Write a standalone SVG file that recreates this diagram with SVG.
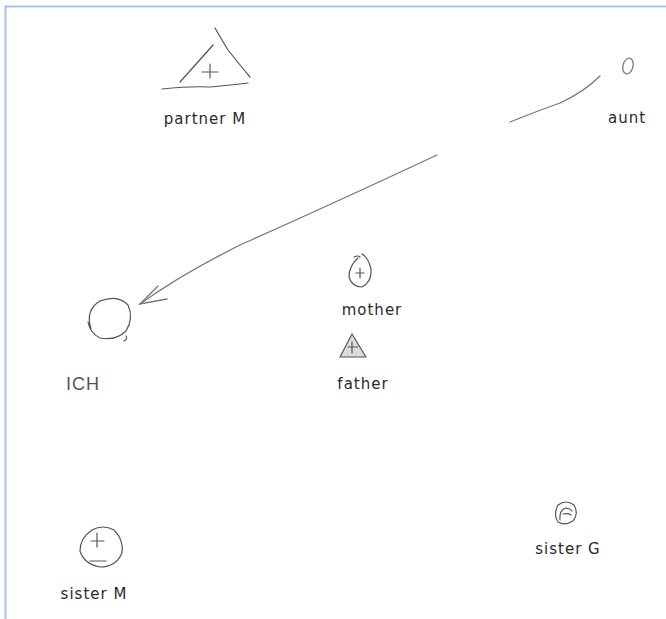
<svg xmlns="http://www.w3.org/2000/svg" width="666" height="619" viewBox="0 0 666 619">
<style>
.lbl{font-family:"DejaVu Sans",sans-serif;font-size:15px;fill:#2a2a2a;letter-spacing:1px;text-anchor:middle}
.pen{fill:none;stroke:#555;stroke-width:1.2;stroke-linecap:round;stroke-linejoin:round}
.pen2{fill:none;stroke:#777;stroke-width:1.3;stroke-linecap:round}
</style>
<rect x="0" y="0" width="666" height="619" fill="#fff"/>
<path d="M5.5 619 V6.5 H666" fill="none" stroke="#a9c1ef" stroke-width="2"/>
<g id="partnerM">
<path class="pen" d="M215 28 Q222 40 228 50 Q240 65 250 77"/>
<path class="pen" d="M213 45 Q198 62 180 82"/>
<path class="pen" d="M162 89 Q190 86 210 87 Q232 85 248 83"/>
<path class="pen" d="M202 72 H218 M210 64 V78"/>
<text class="lbl" x="205" y="124">partner M</text>
</g>
<g id="aunt">
<ellipse class="pen2" cx="628" cy="66" rx="5" ry="8" transform="rotate(15 628 66)"/>
<text class="lbl" x="627" y="123">aunt</text>
</g>
<g id="ICH">
<path class="pen" d="M91 329 Q85 310 100 301 Q118 294 128 305 Q134 318 126 331 Q116 341 100 338 Q90 333 88 322"/>
<path class="pen" d="M126 336 Q128 339 124 341"/>
<text x="66" y="390" style="font-family:'Liberation Sans',sans-serif;font-size:18px;fill:#555;letter-spacing:1px">ICH</text>
</g>
<g id="mother">
<path class="pen" d="M358 258 Q349 266 349 277 Q352 287 362 287 Q372 282 371 269 Q368 257 362 254"/>
<path class="pen" d="M354 257 Q358 255 360 257"/>
<path class="pen" d="M356 273 H364 M360 268 V278"/>
<text class="lbl" x="372" y="315">mother</text>
</g>
<g id="father">
<path d="M352 334 L340 357 L366 357 Z" fill="#dcdcdc" stroke="#555" stroke-width="1.2" stroke-linejoin="round"/>
<path class="pen" d="M348 347 H358 M352 342 V353"/>
<text class="lbl" x="363" y="389">father</text>
</g>
<g id="sisterM">
<path class="pen" d="M92 530 Q103 524 114 530 Q124 540 122 553 Q116 567 100 567 Q84 564 80 551 Q80 538 92 530"/>
<path class="pen" d="M91 541 H104 M97 533 V547"/>
<path class="pen" d="M90 561 H106"/>
<text class="lbl" x="94" y="599">sister M</text>
</g>
<g id="sisterG">
<path class="pen" d="M558 505 Q566 499 574 505 Q579 514 573 521 Q565 526 558 522 Q553 515 558 505"/>
<path class="pen" d="M560 520 Q559 510 566 508 Q571 509 572 511 M563 514 Q568 513 571 515"/>
<text class="lbl" x="568" y="554">sister G</text>
</g>
<g id="connectors">
<path class="pen2" d="M510 122 Q540 110 560 103 Q584 92 600 76"/>
<path class="pen2" d="M437 155 Q330 205 240 245 Q180 275 140 304"/>
<path class="pen2" d="M158 286 L140 304 L167 299"/>
</g>
</svg>
